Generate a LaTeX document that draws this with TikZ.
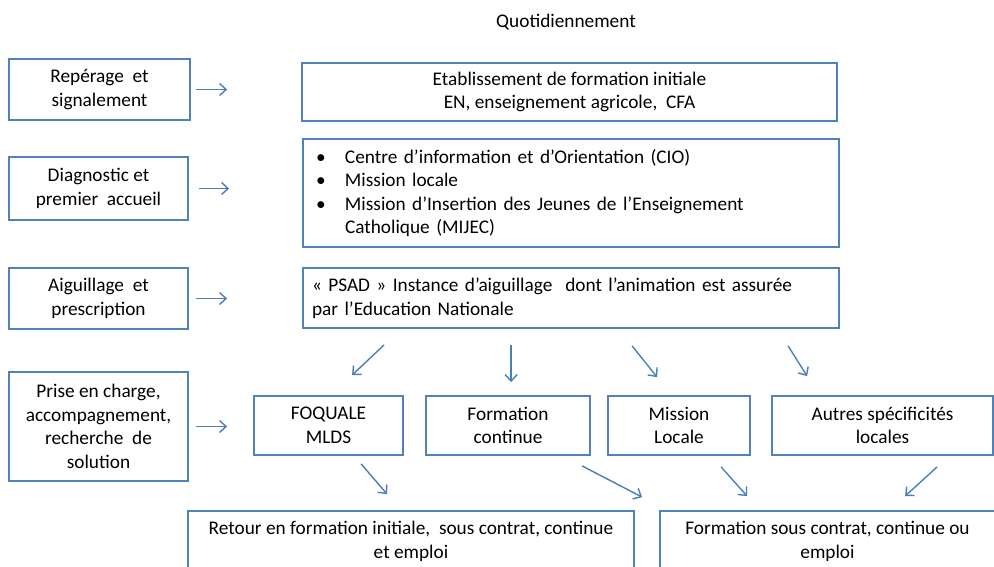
\documentclass[tikz,border=0pt]{standalone}
\usepackage{fontspec}
\setmainfont{Carlito}
\usetikzlibrary{arrows.meta,calc}
\definecolor{boxblue}{RGB}{79,129,189}
\definecolor{arrblue}{RGB}{74,126,187}
\tikzset{
  txt/.style={font=\fontsize{19.3}{23.5}\selectfont},
  box/.style={txt, draw=boxblue, line width=1.8pt, rectangle, inner sep=0pt, align=center},
  arr/.style={draw=arrblue, line width=1.4pt, -{Straight Barb[length=6.5pt,width=12pt,line width=1.4pt]}},
}
\begin{document}
\begin{tikzpicture}[x=1pt,y=-1pt]
\useasboundingbox (0,0) rectangle (994,566);
\clip (0,0) rectangle (994,566);
\fill[white] (0,0) rectangle (994,566);

\node[txt] (title) at (566,22) {Quotidiennement};

% left column
\node[box, minimum width=181, minimum height=61] (L1) at (99.5,89.5) {Repérage\ \ et\\signalement};
\node[box, minimum width=179, minimum height=63] (L2) at (98.5,188.5) {Diagnostic et\\premier\ \ accueil};
\node[box, minimum width=179, minimum height=61] (L3) at (98.5,298.5) {Aiguillage\ \ et\\prescription};
\node[box, minimum width=179, minimum height=109] (L4) at (98.5,426.5) {Prise en charge,\\accompagnement,\\recherche\ \ de\\solution};

% right column
\node[box, minimum width=535, minimum height=58] (R1) at (569.5,92) {Etablissement\ de formation\ initiale\\EN, enseignement\ agricole,\ \ CFA};
\node[box, minimum width=536, minimum height=108, text width=510, align=left] (R2) at (571,193)
 {\makebox[29pt][l]{•}Centre\ d’information et d’Orientation (CIO)\\
  \makebox[29pt][l]{•}Mission locale\\
  \makebox[29pt][l]{•}Mission d’Insertion des Jeunes de l’Enseignement\\
  \hspace*{29pt}Catholique (MIJEC)};
\node[box, minimum width=536, minimum height=60, text width=518, align=left] (R3) at (571,298)
 {« PSAD » Instance d’aiguillage\ \ dont l’animation est assurée\\par l’Education\ Nationale};

% middle row
\node[box, minimum width=149, minimum height=59] (M1) at (328.5,425.5) {FOQUALE\\MLDS};
\node[box, minimum width=164, minimum height=59] (M2) at (508,425.5) {Formation\\continue};
\node[box, minimum width=142, minimum height=59] (M3) at (679,425.5) {Mission\\Locale};
\node[box, minimum width=221, minimum height=59] (M4) at (882.5,425.5) {Autres spécificités\\locales};

% bottom row
\node[box, minimum width=446, minimum height=61] (B1) at (411,541.5) {Retour en formation initiale,\ \ sous contrat, continue\\et emploi};
\node[box, minimum width=335, minimum height=61] (B2) at (827.5,541.5) {Formation sous contrat, continue ou\\emploi};

% left arrows
\draw[arr, shorten <=5pt, shorten >=74pt] (L1.east) -- (R1.west |- L1.east);
\draw[arr, shorten <=10pt, shorten >=73pt] (L2.east) -- (R2.west |- L2.east);
\draw[arr, shorten <=7pt, shorten >=75pt] (L3.east) -- (R3.west |- L3.east);
\draw[arr, shorten <=7pt, shorten >=26pt] (L4.east) -- (M1.west |- L4.east);

% from PSAD
\draw[arr] ($(R3.south west)+(82,16)$) -- ($(M1.north west)+(99,-20)$);
\draw[arr] ($(R3.south west)+(209,16)$) -- ($(M2.north west)+(86,-13)$);
\draw[arr] ($(R3.south west)+(330,17)$) -- ($(M3.north west)+(50,-18)$);
\draw[arr] ($(R3.south west)+(486,17)$) -- ($(M4.north west)+(36,-19)$);

% to results
\draw[arr] ($(M1.south west)+(108,8)$) -- ($(B1.north west)+(200,-16)$);
\draw[arr] ($(M2.south west)+(157,10)$) -- ($(B2.north west)+(-17,-13)$);
\draw[arr] ($(M3.south west)+(114,11)$) -- ($(B2.north west)+(88,-14)$);
\draw[arr] ($(M4.south west)+(166,11)$) -- ($(B2.north west)+(246,-14)$);
\end{tikzpicture}
\end{document}
